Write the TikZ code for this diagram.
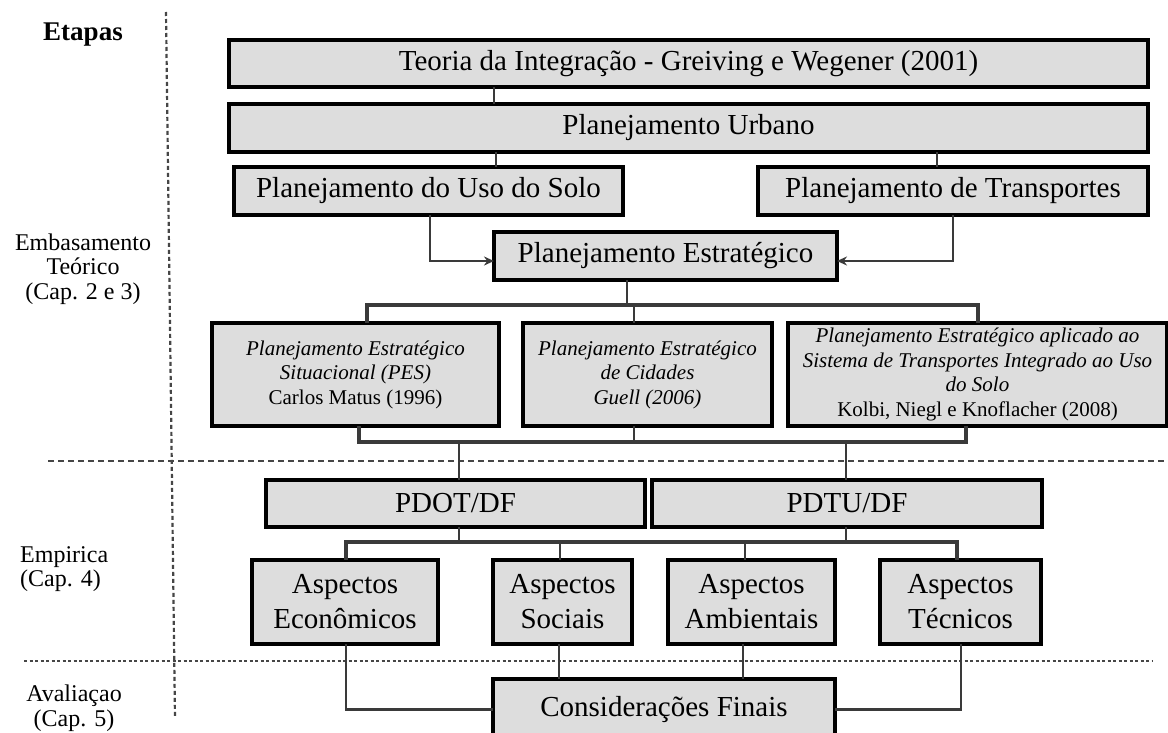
\documentclass[tikz,border=0pt]{standalone}
\usepackage{fontspec}
\setmainfont{Liberation Serif}
\usetikzlibrary{arrows.meta}
\definecolor{boxgray}{RGB}{221,221,221}
\definecolor{linkgray}{RGB}{58,58,58}
\definecolor{sepgray}{RGB}{70,70,70}
\newcommand\bigtxt{\fontsize{29}{35}\selectfont}
\newcommand\midtxt{\fontsize{21}{24.5}\selectfont}
\newcommand\sidetxt{\fontsize{24}{24.5}\selectfont}
\tikzset{
  box/.style={draw=black, line width=3.4pt, fill=boxgray, inner sep=0pt,
    outer sep=0pt, align=center, font=\bigtxt},
  smallbox/.style={box, font=\midtxt},
  link/.style={draw=linkgray, line width=2.4pt},
  bar/.style={draw=linkgray, line width=3.2pt},
  arr/.style={link, -{Stealth[length=10pt,width=9pt]}},
  sepline/.style={draw=sepgray, line width=2.2pt},
  side/.style={inner sep=0pt, font=\sidetxt, align=center}
}
\begin{document}
\begin{tikzpicture}[x=1pt, y=-1pt]
\clip (0,0) rectangle (1168,733);
\fill[white] (0,0) rectangle (1168,733);

% stage separators
\draw[sepline, dash pattern=on 4pt off 3pt] (166,12) -- (175,718);
\draw[sepline, dash pattern=on 6pt off 4pt] (48,461) -- (1168,461);
\draw[sepline, line width=2.4pt, dash pattern=on 3pt off 2.5pt] (24,661) -- (1152,661);

% stage labels
\node[side, font=\bfseries\fontsize{27}{30}\selectfont] (etapas) at (83,35) {Etapas};
\node[side] (embas) at (83,269) {Embasamento\\Teórico\\(Cap. 2 e 3)};
\node[side, align=left, anchor=west] (empir) at (20,569) {Empirica\\(Cap. 4)};
\node[side] (aval) at (74,708) {Avaliaçao\\(Cap. 5)};

% theory
\node[box, minimum width=919, minimum height=47] (teoria) at (688.5,63.5)
  {Teoria da Integração - Greiving e Wegener (2001)};
\node[box, minimum width=919, minimum height=48] (urbano) at (688.5,128)
  {Planejamento Urbano};
\node[box, minimum width=389, minimum height=48] (uso) at (428.5,191)
  {Planejamento do Uso do Solo};
\node[box, minimum width=390, minimum height=48] (transp) at (953,191)
  {Planejamento de Transportes};
\node[box, minimum width=343, minimum height=48] (estr) at (665.5,256)
  {Planejamento Estratégico};

\node[smallbox, minimum width=287, minimum height=103] (pes) at (355.5,374.5)
  {\itshape Planejamento Estratégico\\\itshape Situacional (PES)\\Carlos Matus (1996)};
\node[smallbox, minimum width=249, minimum height=103] (cid) at (647.5,374.5)
  {\itshape Planejamento Estratégico\\\itshape de Cidades\\\itshape Guell (2006)};
\node[smallbox, minimum width=379, minimum height=103] (sit) at (977.5,374.5)
  {\itshape Planejamento Estratégico aplicado ao\\\itshape Sistema de Transportes Integrado ao Uso\\\itshape do Solo\\Kolbi, Niegl e Knoflacher (2008)};

% empirical
\node[box, minimum width=379, minimum height=47] (pdot) at (455.5,503.5) {PDOT/DF};
\node[box, minimum width=390, minimum height=47] (pdtu) at (847,503.5) {PDTU/DF};
\node[box, minimum width=186, minimum height=84] (econ) at (345,602) {Aspectos\\Econômicos};
\node[box, minimum width=139, minimum height=84] (soc) at (562.5,602) {Aspectos\\Sociais};
\node[box, minimum width=167, minimum height=84] (amb) at (751.5,602) {Aspectos\\Ambientais};
\node[box, minimum width=161, minimum height=84] (tec) at (960.5,602) {Aspectos\\Técnicos};

% evaluation
\node[box, minimum width=342, minimum height=61] (cons) at (664,709.5) {Considerações Finais};

% theory links
\draw[link] (teoria.south -| 494,0) -- (urbano.north -| 494,0);
\draw[link] (urbano.south -| 496,0) -- (uso.north -| 496,0);
\draw[link] (urbano.south -| 937,0) -- (transp.north -| 937,0);
\draw[arr] (uso.south -| 430,0) |- ([yshift=-5pt]estr.west);
\draw[arr] (transp.south -| 953,0) |- ([yshift=-5pt]estr.east);

\draw[link] (estr.south -| 627,0) -- (627,305);
\draw[bar] (pes.north -| 367,0) -- (367,305) -- (978,305) -- (sit.north -| 978,0);
\draw[link] (cid.north -| 634,0) -- (634,305);
\draw[bar] (pes.south -| 359,0) -- (359,442) -- (966,442) -- (sit.south -| 966,0);
\draw[link] (cid.south -| 634,0) -- (634,442);

% empirical links
\draw[link] (459,442) -- (pdot.north -| 459,0);
\draw[link] (846,442) -- (pdtu.north -| 846,0);
\draw[link] (pdot.south -| 459,0) -- (459,542);
\draw[link] (pdtu.south -| 846,0) -- (846,542);
\draw[bar] (econ.north -| 346,0) -- (346,542) -- (957,542) -- (tec.north -| 957,0);
\draw[link] (soc.north -| 560,0) -- (560,542);
\draw[link] (amb.north -| 745,0) -- (745,542);

% evaluation links
\draw[link] (econ.south -| 346,0) |- (cons.west);
\draw[link] (soc.south -| 559,0) -- (cons.north -| 559,0);
\draw[link] (amb.south -| 743,0) -- (cons.north -| 743,0);
\draw[link] (tec.south -| 961,0) |- (cons.east);
\end{tikzpicture}
\end{document}
